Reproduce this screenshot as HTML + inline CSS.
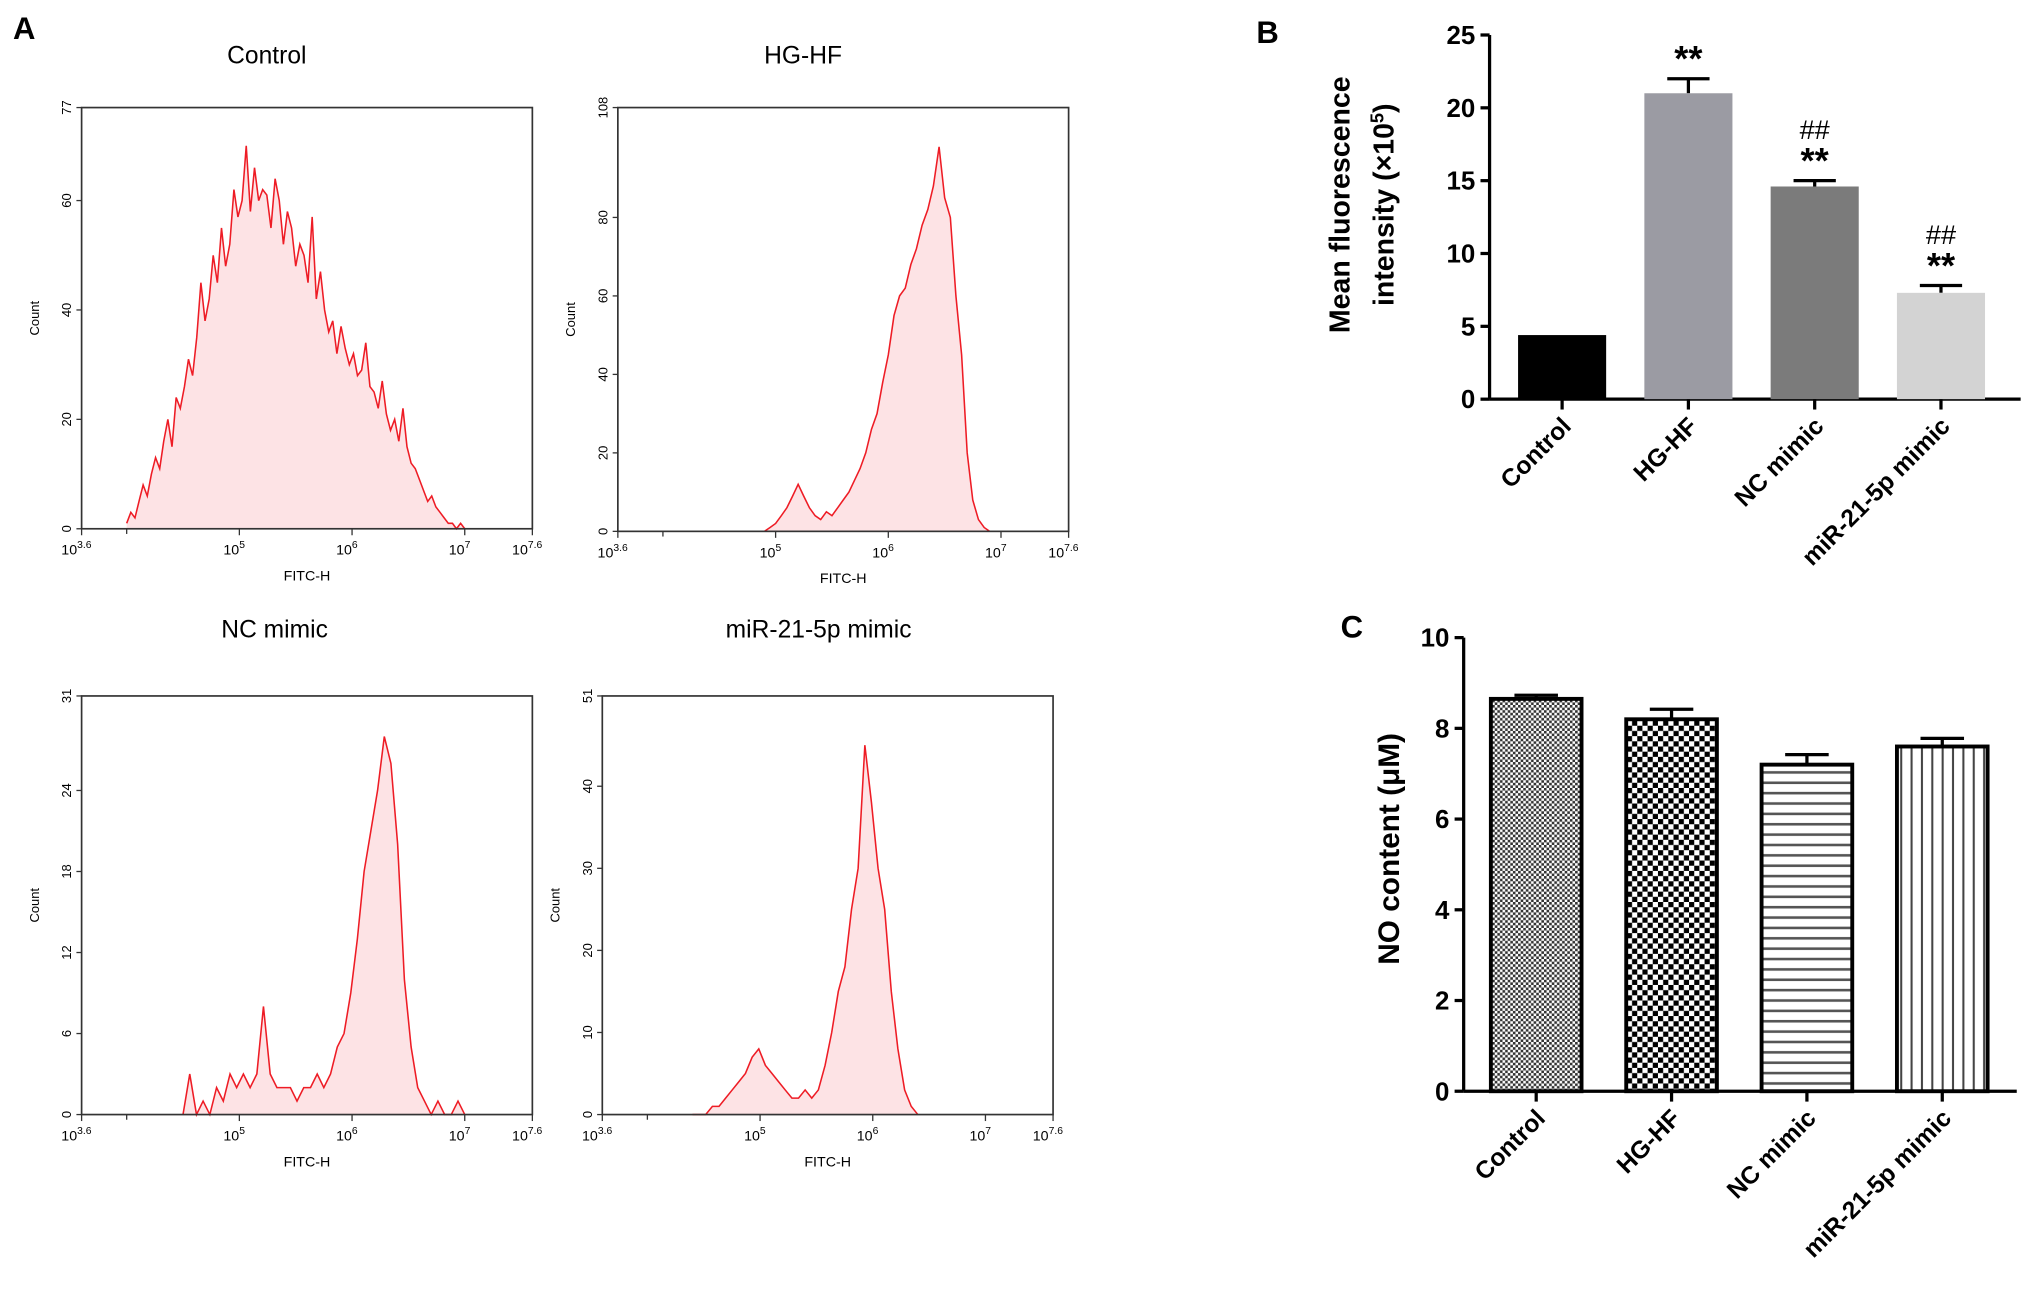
<!DOCTYPE html>
<html><head><meta charset="utf-8"><style>
html,body{margin:0;padding:0;background:#fff;}
svg{display:block;font-family:"Liberation Sans",Arial,sans-serif;}
</style></head><body>
<svg id="fig" width="2031" height="1296" viewBox="0 0 1568 1000" preserveAspectRatio="none" xmlns="http://www.w3.org/2000/svg">
<defs>
<pattern id="p1" width="4" height="4" patternUnits="userSpaceOnUse"><rect width="4" height="4" fill="#fff"/><rect width="2" height="2" fill="#333"/><rect x="2" y="2" width="2" height="2" fill="#333"/></pattern>
<pattern id="p2" width="8" height="8" patternUnits="userSpaceOnUse"><rect width="8" height="8" fill="#fff"/><rect width="4" height="4" fill="#000"/><rect x="4" y="4" width="4" height="4" fill="#000"/></pattern>
<pattern id="p3" width="8" height="8" patternUnits="userSpaceOnUse"><rect width="8" height="8" fill="#fff"/><rect y="3" width="8" height="2" fill="#555"/></pattern>
<pattern id="p4" width="8" height="8" patternUnits="userSpaceOnUse"><rect width="8" height="8" fill="#fff"/><rect x="3" width="1.6" height="8" fill="#444"/></pattern>
</defs>
<g id="root"></g>
</svg>
<script>
// ---- Histogram data (counts per bin, bins spread evenly between start and end, log10 units) ----
const histTitles = ["Control","HG-HF","NC mimic","miR-21-5p mimic"];
const histYMax = [77,108,31,51];
const histYTicks = [[0,20,40,60],[0,20,40,60,80],[0,6,12,18,24],[0,10,20,30,40]];
const histStart = [4.0,4.9,4.5,4.4];
const histEnd = [7.0,6.9,7.0,6.4];
const ctrlCounts = [1,3,2,5,8,6,10,13,11,16,20,15,24,22,26,31,28,35,45,38,42,50,45,55,48,52,62,57,60,70,58,66,60,62,61,55,64,60,52,58,55,48,52,50,45,57,42,47,40,36,38,32,37,33,30,32,28,29,34,26,25,22,27,21,18,20,16,22,15,12,11,9,7,5,6,4,3,2,1,1,0,1,0];
const hgCounts = [0,1,2,4,6,9,12,9,6,4,3,5,4,6,8,10,13,16,20,26,30,38,45,55,60,62,68,72,78,82,88,98,85,80,60,45,20,8,3,1,0];
const ncCounts = [0,3,0,1,0,2,1,3,2,3,2,3,8,3,2,2,2,1,2,2,3,2,3,5,6,9,13,18,21,24,28,26,20,10,5,2,1,0,1,0,0,1,0];
const mirCounts = [0,0,0,1,1,2,3,4,5,7,8,6,5,4,3,2,2,3,2,3,6,10,15,18,25,30,45,38,30,25,15,8,3,1,0];
const histCounts = [ctrlCounts,hgCounts,ncCounts,mirCounts];
const histBoxes = [[63,83,348,325],[477,83,348,327],[63,537,348,323],[465,537,348,323]];
const histTitlePos = [[206,49],[620,49],[212,492],[632,492]];

// ---- Panel B data ----
const catLabels = ["Control","HG-HF","NC mimic","miR-21-5p mimic"];
const bValues = [4.4,21.0,14.6,7.3];
const bErrors = [0,1.0,0.4,0.5];
const bTicks = [0,5,10,15,20,25];
const bColors = ["#000","#9b9ba3","#7b7b7b","#d3d3d3"];
const bMarks = [[],["**"],["##","**"],["##","**"]];
// ---- Panel C data ----
const cValues = [8.65,8.2,7.2,7.6];
const cErrors = [0.08,0.22,0.22,0.18];
const cTicks = [0,2,4,6,8,10];
const cFills = ["url(#p1)","url(#p2)","url(#p3)","url(#p4)"];

const NS="http://www.w3.org/2000/svg";
const root=document.getElementById('root');
function mk(tag,attrs,parent,text){const e=document.createElementNS(NS,tag);for(const k in attrs)e.setAttribute(k,attrs[k]);if(text!==undefined)e.textContent=text;(parent||root).appendChild(e);return e;}

[["A",10,30],["B",970,33],["C",1035,492]].forEach(l=>{
  const t=mk('text',{x:l[1],y:l[2],'font-size':24,'font-weight':'bold'},root,l[0]);
  
  
});

histTitles.forEach((title,h)=>{
  const [bx,by,bw,bh]=histBoxes[h];
  const g=mk('g',{});
  
  
  const xs=v=>bx+(v-3.6)/4*bw;
  const ys=v=>by+bh-v/histYMax[h]*bh;
  const t=mk('text',{x:histTitlePos[h][0],y:histTitlePos[h][1],'font-size':19,'text-anchor':'middle'},g,title);
  
  
  const c=histCounts[h];
  const step=(histEnd[h]-histStart[h])/(c.length-1);
  let pts=[];
  c.forEach((v,i)=>pts.push([xs(histStart[h]+i*step),ys(v)]));
  const d='M'+pts.map(p=>p[0].toFixed(1)+','+p[1].toFixed(1)).join('L');
  const area=mk('path',{d:d+'L'+pts[pts.length-1][0]+','+ys(0)+'L'+pts[0][0]+','+ys(0)+'Z',fill:'#fde3e5',stroke:'none'},g);
  
  
  const line=mk('path',{d:d,fill:'none',stroke:'#ee1c25','stroke-width':1.2},g);
  
  
  mk('rect',{x:bx,y:by,width:bw,height:bh,fill:'none',stroke:'#333','stroke-width':1.3},g);
  histYTicks[h].concat([histYMax[h]]).forEach(v=>{
    mk('line',{x1:bx-4,x2:bx,y1:ys(v),y2:ys(v),stroke:'#333'},g);
    const tl=mk('text',{x:0,y:0,'font-size':10,'text-anchor':'middle',transform:`translate(${bx-8},${ys(v)}) rotate(-90)`},g,String(v));
    
    
  });
  const yl=mk('text',{x:0,y:0,'font-size':10,'text-anchor':'middle',transform:`translate(${bx-33},${by+bh/2}) rotate(-90)`},g,'Count');
  
  
  [[3.6,'3.6'],[5,'5'],[6,'6'],[7,'7'],[7.6,'7.6']].forEach(([v,s])=>{
    mk('line',{x1:xs(v),x2:xs(v),y1:by+bh,y2:by+bh+5,stroke:'#333'},g);
    const tl=mk('text',{x:xs(v)-4,y:by+bh+20,'font-size':11,'text-anchor':'middle'},g);
    
    
    tl.appendChild(document.createTextNode('10'));
    mk('tspan',{dy:-5,'font-size':8},tl,s);
  });
  mk('line',{x1:xs(4),x2:xs(4),y1:by+bh,y2:by+bh+4,stroke:'#333'},g);
  const xl=mk('text',{x:bx+bw/2,y:by+bh+40,'font-size':11,'text-anchor':'middle'},g,'FITC-H');
  
  
});

function barChart(opt){
  const g=mk('g',{});
  
  
  const ys=v=>opt.y0-(v/opt.max)*(opt.y0-opt.yTop);
  mk('line',{x1:opt.ax,x2:opt.ax,y1:ys(opt.max),y2:opt.y0,stroke:'#000','stroke-width':2.5},g);
  mk('line',{x1:opt.ax,x2:opt.xEnd,y1:opt.y0,y2:opt.y0,stroke:'#000','stroke-width':2.5},g);
  opt.ticks.forEach(v=>{
    mk('line',{x1:opt.ax-7,x2:opt.ax,y1:ys(v),y2:ys(v),stroke:'#000','stroke-width':2.5},g);
    const t=mk('text',{x:opt.ax-11,y:ys(v)+7,'font-size':20,'font-weight':'bold','text-anchor':'end'},g,String(v));
    
    
  });
  opt.values.forEach((v,i)=>{
    const cx=opt.cx0+i*opt.step;
    const x=cx-opt.bw/2;
    const err=opt.errors[i];
    if(err>0){
      mk('line',{x1:cx,x2:cx,y1:ys(v),y2:ys(v+err),stroke:'#000','stroke-width':2.5},g);
      mk('line',{x1:cx-opt.bw*0.24,x2:cx+opt.bw*0.24,y1:ys(v+err),y2:ys(v+err),stroke:'#000','stroke-width':2.5},g);
    }
    const b=mk('rect',{x:x,y:ys(v),width:opt.bw,height:opt.y0-ys(v),fill:opt.fills[i],stroke:opt.stroke||'none','stroke-width':opt.stroke?3:0},g);
    
    
    mk('line',{x1:cx,x2:cx,y1:opt.y0,y2:opt.y0+8,stroke:'#000','stroke-width':2.5},g);
    const lab=mk('text',{x:0,y:0,'font-size':19,'font-weight':'bold','text-anchor':'end',transform:`translate(${cx+8},${opt.y0+22}) rotate(-45)`},g,catLabels[i]);
    
    
    if(opt.marks){
      const m=opt.marks[i];
      m.slice().reverse().forEach((s,k)=>{
        const mt=mk('text',{x:cx,y:ys(v+err)-6-k*26,'font-size':s==='**'?28:21,'font-weight':s==='**'?'bold':'normal','text-anchor':'middle'},g,s);
        
        
      });
    }
  });
  return g;
}

const gb=barChart({name:'panel-b-bar-chart',ax:1150,y0:308,yTop:27,max:25,xEnd:1560,ticks:bTicks,values:bValues,errors:bErrors,fills:bColors,cx0:1206,step:97.5,bw:68,marks:bMarks});
const bt=mk('text',{x:0,y:0,'font-size':22,'font-weight':'bold','text-anchor':'middle',transform:'translate(1042,158) rotate(-90)'},gb,'Mean fluorescence');


const bt2=mk('text',{x:0,y:0,'font-size':22,'font-weight':'bold','text-anchor':'middle',transform:'translate(1076,158) rotate(-90)'},gb);


bt2.appendChild(document.createTextNode('intensity (×10'));
mk('tspan',{dy:-8,'font-size':14},bt2,'5');
mk('tspan',{dy:8},bt2,')');

const gc=barChart({name:'panel-c-bar-chart',ax:1130,y0:842,yTop:492,max:10,xEnd:1557,ticks:cTicks,values:cValues,errors:cErrors,fills:cFills,cx0:1186,step:104.5,bw:70,stroke:'#000'});
const ct=mk('text',{x:0,y:0,'font-size':23,'font-weight':'bold','text-anchor':'middle',transform:'translate(1080,655) rotate(-90)'},gc,'NO content (μM)');


</script>
</body></html>
